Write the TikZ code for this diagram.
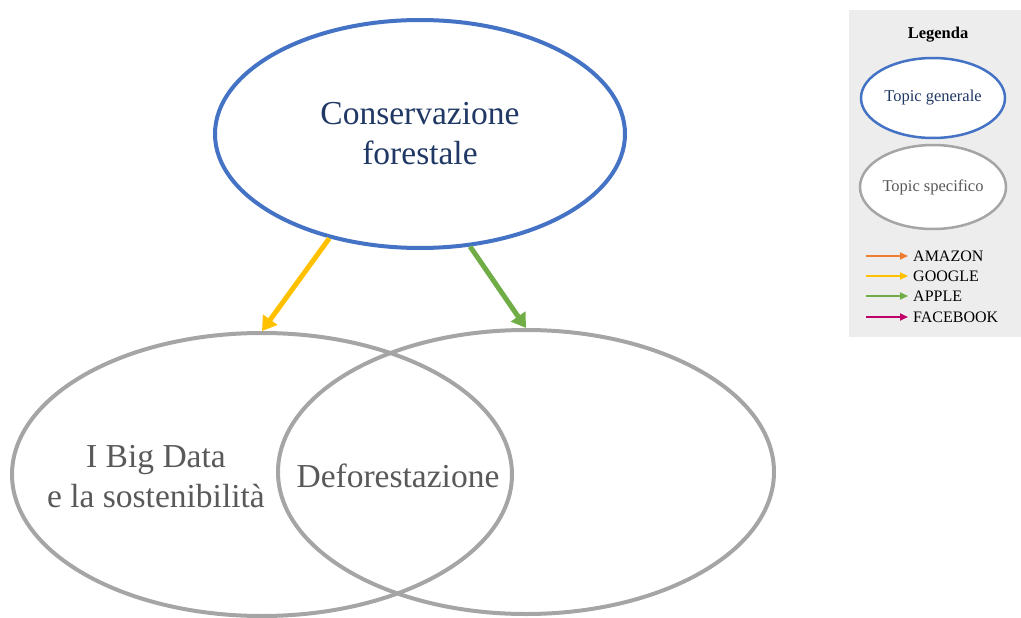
\documentclass[tikz,border=0pt]{standalone}
\usepackage{fontspec}
\setmainfont{Liberation Serif}
\usetikzlibrary{shapes.geometric,arrows.meta}
\definecolor{topicblue}{HTML}{4472C4}
\definecolor{topicgray}{HTML}{A5A5A5}
\definecolor{textblue}{HTML}{203864}
\definecolor{textgray}{HTML}{595959}
\definecolor{cAmazon}{HTML}{ED7D31}
\definecolor{cGoogle}{HTML}{FFC000}
\definecolor{cApple}{HTML}{70AD47}
\definecolor{cFacebook}{HTML}{C0006A}
\definecolor{legbg}{HTML}{EDEDED}
\tikzset{
  general/.style={draw=topicblue, ellipse, inner sep=0pt, line width=4pt, fill=white},
  specific/.style={draw=topicgray, ellipse, inner sep=0pt, line width=4pt},
  bigtext/.style={font=\fontsize{33.5}{40}\selectfont, align=center, inner sep=0pt},
  legtext/.style={font=\fontsize{16}{19}\selectfont, inner sep=0pt},
  mainarrow/.style={line width=5pt, -{Triangle[length=14pt,width=17pt]}},
  legarrow/.style={line width=1.8pt, -{Triangle[length=8pt,width=7pt]}},
}
\begin{document}
\begin{tikzpicture}[x=1pt,y=-1pt]
\useasboundingbox (0,0) rectangle (1021,618);
% main diagram
\node[general, minimum width=410pt, minimum height=228pt, text=textblue, bigtext] (cons) at (420,134) {Conservazione\\forestale};
\node[specific, minimum width=500pt, minimum height=283pt] (left) at (262,474.5) {};
\node[specific, minimum width=496pt, minimum height=284pt] (right) at (526,472) {};
\node[bigtext, text=textgray] (bigdata) at (156,477) {I Big Data\\e la sostenibilità};
\node[bigtext, text=textgray] (defor) at (398,476) {Deforestazione};
\draw[mainarrow, cGoogle] (cons.229) -- (left.north);
\draw[mainarrow, cApple] (cons.294) -- (right.north);
% legend
\node[fill=legbg, minimum width=172pt, minimum height=327pt, inner sep=0pt] (legbox) at (935,173.5) {};
\node[font=\bfseries\fontsize{16.5}{19}\selectfont, inner sep=0pt] (legtitle) at (938,35) {Legenda};
\node[general, line width=2.5pt, minimum width=144pt, minimum height=80pt, text=textblue, font=\fontsize{16.5}{19}\selectfont] (leggen) at (933,98) {Topic generale};
\node[specific, line width=2.5pt, fill=white, minimum width=146pt, minimum height=84pt, text=textgray, font=\fontsize{16.5}{19}\selectfont] (legspec) at (933,187) {Topic specifico};
\foreach \y/\c/\t/\n in {256/cAmazon/AMAZON/a, 276/cGoogle/GOOGLE/g, 296/cApple/APPLE/p, 317/cFacebook/FACEBOOK/f}{
  \coordinate (s\n) at (866,\y);
  \node[legtext, anchor=west] (l\n) at (913,\y) {\t};
  \draw[legarrow, \c, shorten >=5pt] (s\n) -- (l\n.west);
}
\end{tikzpicture}
\end{document}
